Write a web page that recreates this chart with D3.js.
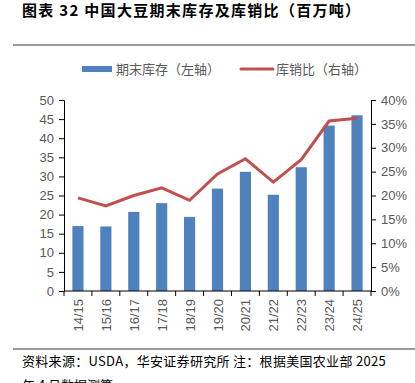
<!DOCTYPE html>
<html>
<head>
<meta charset="utf-8">
<script src="https://cdn.jsdelivr.net/npm/d3@7"></script>
<style>
  body { margin: 0; background: #fff; }
  svg { display: block; font-family: "Liberation Sans", "Noto Sans CJK SC", sans-serif; }
  .tick text { fill: #595959; font-size: 13px; }
</style>
</head>
<body>
<div id="chart"></div>
<script>
// data
const years = ["14/15","15/16","16/17","17/18","18/19","19/20","20/21","21/22","22/23","23/24","24/25"];
const stocks = [17.0, 16.9, 20.7, 23.0, 19.4, 26.8, 31.2, 25.2, 32.4, 43.3, 46.0];
const ratio = [0.195, 0.178, 0.200, 0.216, 0.190, 0.245, 0.277, 0.228, 0.275, 0.356, 0.362];
const leftTicks = [0,5,10,15,20,25,30,35,40,45,50];
const rightTicks = [0,0.05,0.10,0.15,0.20,0.25,0.30,0.35,0.40];

const width = 415, height = 383;
const x0 = 64, x1 = 371, yTop = 100, yBot = 291;

const svg = d3.select("#chart").append("svg")
    .attr("width", width)
    .attr("height", height);

// title
svg.append("text")
    .attr("x", 22).attr("y", 16)
    .style("font-size", "15px").style("font-weight", "bold").attr("fill", "#000")
    .style("letter-spacing", "1.3px")
    .style("font-family", "'Noto Sans CJK SC', sans-serif")
    .text("图表 32 中国大豆期末库存及库销比（百万吨）");

svg.append("line").attr("x1", 13).attr("x2", 415).attr("y1", 45).attr("y2", 45)
    .attr("stroke", "#333").attr("stroke-width", 1);
svg.append("line").attr("x1", 13).attr("x2", 415).attr("y1", 349).attr("y2", 349)
    .attr("stroke", "#333").attr("stroke-width", 1);

// scales
const x = d3.scaleBand().domain(years).range([x0, x1]).paddingInner(0.6).paddingOuter(0.3);
const yL = d3.scaleLinear().domain([0, 50]).range([yBot, yTop]);
const yR = d3.scaleLinear().domain([0, 0.4]).range([yBot, yTop]);

// bars
svg.selectAll("rect.bar")
    .data(years)
    .join("rect")
    .attr("class", "bar")
    .attr("x", d => x(d))
    .attr("width", x.bandwidth())
    .attr("y", (d, i) => yL(stocks[i]))
    .attr("height", (d, i) => yBot - yL(stocks[i]))
    .attr("fill", "#4f81bd");

// line
const line = d3.line()
    .x((d, i) => x(years[i]) + x.bandwidth() / 2)
    .y(d => yR(d));
svg.append("path")
    .datum(ratio)
    .attr("d", line)
    .attr("fill", "none")
    .attr("stroke", "#c0504d")
    .attr("stroke-width", 3);

// axes
svg.append("g")
    .attr("transform", `translate(${x0},0)`)
    .call(d3.axisLeft(yL).tickValues(leftTicks).tickSize(5).tickPadding(5));
svg.append("g")
    .attr("transform", `translate(${x1},0)`)
    .call(d3.axisRight(yR).tickValues(rightTicks).tickSize(5).tickPadding(5)
        .tickFormat(d => Math.round(d * 100) + "%"));

// category axis with ticks between bars
const bounds = d3.range(years.length + 1).map(i => x0 + (x1 - x0) * i / years.length);
const bottom = svg.append("g");
bottom.append("line").attr("x1", x0).attr("x2", x1).attr("y1", yBot).attr("y2", yBot)
    .attr("stroke", "#000");
bottom.selectAll("line.tk").data(bounds).join("line").attr("class", "tk")
    .attr("x1", d => d).attr("x2", d => d).attr("y1", yBot).attr("y2", yBot + 5)
    .attr("stroke", "#000");
bottom.selectAll("text").data(years).join("text")
    .attr("transform", d => `translate(${x(d) + x.bandwidth() / 2 + 5},${yBot + 8}) rotate(-90)`)
    .attr("text-anchor", "end")
    .attr("fill", "#595959")
    .style("font-size", "13px")
    .text(d => d);

svg.selectAll(".domain").attr("stroke", "#000");
svg.selectAll(".tick line").attr("stroke", "#000");

// legend
svg.append("rect").attr("x", 82).attr("y", 66).attr("width", 30).attr("height", 6).attr("fill", "#4f81bd");
svg.append("text").attr("x", 116).attr("y", 74).attr("fill", "#595959")
    .style("font-size", "13px").style("font-family", "'Noto Sans CJK SC', sans-serif")
    .text("期末库存（左轴）");
svg.append("line").attr("x1", 241).attr("x2", 273).attr("y1", 69).attr("y2", 69)
    .attr("stroke", "#c0504d").attr("stroke-width", 3).attr("stroke-linecap", "round");
svg.append("text").attr("x", 276).attr("y", 74).attr("fill", "#595959")
    .style("font-size", "13px").style("font-family", "'Noto Sans CJK SC', sans-serif")
    .text("库销比（右轴）");

// source note
svg.append("text").attr("x", 22).attr("y", 366).attr("fill", "#000")
    .style("font-size", "13px").style("letter-spacing", "0.3px")
    .style("font-family", "'Noto Sans CJK SC', sans-serif")
    .text("资料来源：USDA，华安证券研究所 注：根据美国农业部 2025");
svg.append("text").attr("x", 22).attr("y", 390).attr("fill", "#000")
    .style("font-size", "13px").style("font-family", "'Noto Sans CJK SC', sans-serif")
    .text("年 4 月数据测算");
</script>
</body>
</html>
